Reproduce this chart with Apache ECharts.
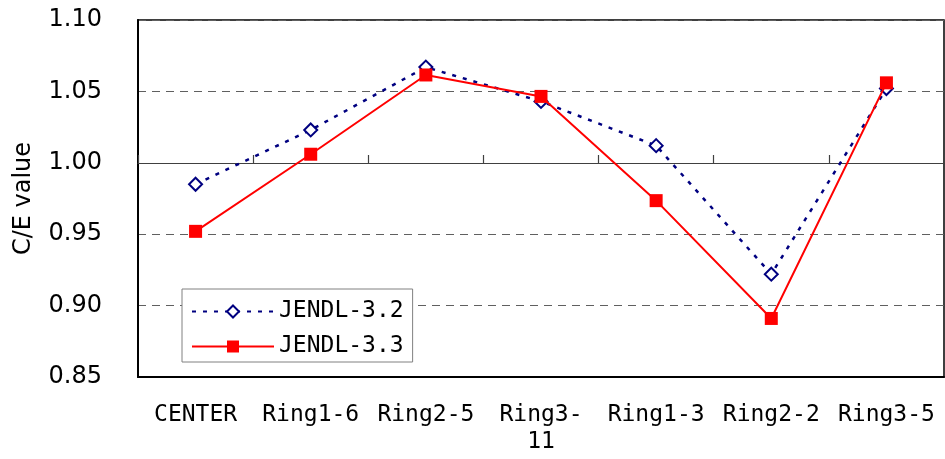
<!DOCTYPE html>
<html>
<head>
<meta charset="utf-8">
<script src="https://cdn.jsdelivr.net/npm/echarts@6/dist/echarts.min.js"></script>
<style>
    html, body { margin: 0; padding: 0; background: #fff; }
    #chart { width: 945px; height: 459px; }
</style>
</head>
<body>
<div id="chart"></div>
<script>
// data
const categories = ['CENTER', 'Ring1-6', 'Ring2-5', 'Ring3-\n11', 'Ring1-3', 'Ring2-2', 'Ring3-5'];
const jendl32 = [0.985, 1.023, 1.067, 1.043, 1.012, 0.922, 1.052];
const jendl33 = [0.952, 1.006, 1.0615, 1.0465, 0.9735, 0.891, 1.056];
const yTicks = [0.85, 0.90, 0.95, 1.00, 1.05, 1.10];

const monoFont = 'DejaVu Sans Mono';
const sansFont = 'DejaVu Sans';

var myChart = echarts.init(document.getElementById('chart'));

var option = {
    animation: false,
    grid: {
        left: 138,
        right: 1,
        top: 20,
        bottom: 82,
        show: true,
        borderColor: '#000',
        borderWidth: 1.5
    },
    legend: {
        orient: 'vertical',
        left: 182,
        top: 289,
        padding: [10, 9, 3, 9],
        itemWidth: 82,
        itemHeight: 15,
        itemGap: 10,
        borderColor: '#808080',
        borderWidth: 1,
        backgroundColor: '#fff',
        textStyle: {
            fontFamily: monoFont,
            fontSize: 23,
            lineHeight: 25,
            color: '#000'
        },
        data: ['JENDL-3.2', 'JENDL-3.3']
    },
    xAxis: [{
        type: 'category',
        data: categories,
        position: 'bottom',
        boundaryGap: true,
        axisLine: { lineStyle: { color: '#000', width: 2 } },
        axisTick: { show: false },
        axisLabel: {
            fontFamily: monoFont,
            fontSize: 23,
            lineHeight: 27,
            color: '#000',
            margin: 25,
            interval: 0
        },
        splitLine: { show: false }
    }, {
        // the line at 1.00 with its ticks
        type: 'category',
        data: categories,
        position: 'bottom',
        offset: -214,
        boundaryGap: true,
        axisLine: { lineStyle: { color: '#404040', width: 1.2 } },
        axisTick: { show: true, inside: true, length: 8, lineStyle: { color: '#404040', width: 1.2 } },
        axisLabel: { show: false },
        splitLine: { show: false }
    }],
    yAxis: {
        type: 'value',
        min: 0.85,
        max: 1.10,
        interval: 0.05,
        name: 'C/E value',
        nameLocation: 'middle',
        nameGap: 102,
        nameTextStyle: {
            fontFamily: sansFont,
            fontSize: 24,
            color: '#000'
        },
        axisLine: { show: true, lineStyle: { color: '#000', width: 2 } },
        axisTick: { show: false },
        axisLabel: {
            fontFamily: sansFont,
            fontSize: 24,
            color: '#000',
            margin: 36,
            formatter: function (v) {
                const t = yTicks.find(x => Math.abs(x - v) < 1e-6);
                return t !== undefined ? t.toFixed(2) : '';
            }
        },
        splitLine: {
            show: true,
            lineStyle: { color: '#606060', type: [8, 6], width: 1.2 }
        }
    },
    series: [{
        name: 'JENDL-3.2',
        type: 'line',
        data: jendl32,
        symbol: 'diamond',
        symbolSize: 13,
        z: 3,
        lineStyle: { color: '#000080', width: 2.5, type: [4, 7] },
        itemStyle: { color: '#fff', borderColor: '#000080', borderWidth: 2 }
    }, {
        name: 'JENDL-3.3',
        type: 'line',
        data: jendl33,
        symbol: 'rect',
        symbolSize: 13,
        z: 4,
        lineStyle: { color: '#ff0000', width: 2 },
        itemStyle: { color: '#ff0000' }
    }]
};

myChart.setOption(option);
</script>
</body>
</html>
